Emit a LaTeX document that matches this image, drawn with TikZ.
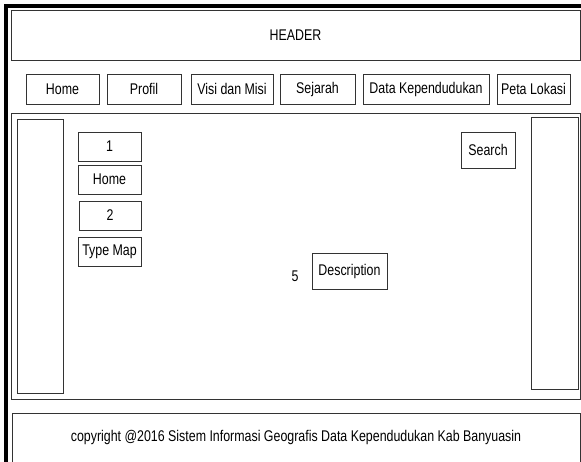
\documentclass[tikz,border=0pt]{standalone}
\usepackage{fontspec}
\setmainfont{Liberation Sans}[FakeStretch=0.8]
\begin{document}
\begin{tikzpicture}[x=1pt,y=-1pt,
  box/.style={draw=black!80, line width=0.9pt, inner sep=0pt, fill=none},
  every node/.style={font=\fontsize{15.5}{17}\selectfont}]
\useasboundingbox (0,0) rectangle (581,461);
\fill[white] (0,0) rectangle (581,461);
% outer frame
\draw[line width=4pt, line cap=rect] (6,470) -- (6,6) -- (590,6);
% header
\node[box, minimum width=569, minimum height=50] (header) at (295.5,35) {HEADER};
% menu
\node[box, minimum width=73, minimum height=30] (mhome) at (62.5,89) {Home};
\node[box, minimum width=74, minimum height=30] (mprofil) at (144,89) {Profil};
\node[box, minimum width=82, minimum height=30] (mvisi) at (232,89) {Visi dan Misi};
\node[box, minimum width=75, minimum height=30] (msejarah) at (317.5,89) {Sejarah};
\node[box, minimum width=126, minimum height=30] (mdata) at (426,89) {Data Kependudukan};
\node[box, minimum width=73, minimum height=30] (mpeta) at (533.5,89) {Peta Lokasi};
% main
\node[box, minimum width=569, minimum height=286] (main) at (295.5,256) {};
\node[box, minimum width=46, minimum height=274] (lside) at (40,256) {};
\node[box, minimum width=47, minimum height=272] (rside) at (554.5,253) {};
% left column
\node[box, minimum width=63, minimum height=29] (b1) at (109.5,146.5) {1};
\node[box, minimum width=63, minimum height=29] (bhome) at (109.5,179.5) {Home};
\node[box, minimum width=62, minimum height=29] (b2) at (110,215.5) {2};
\node[box, minimum width=63, minimum height=29] (btype) at (109.5,251.5) {Type Map};
% search & description
\node[box, minimum width=54, minimum height=36] (search) at (488,150) {Search};
\node[box, minimum width=75, minimum height=36] (desc) at (349.5,271) {Description};
\node[inner sep=0pt] (five) at (295,276) {5};
% footer
\node[box, minimum width=568, minimum height=57] (footer) at (296,441.5) {};
\node[inner sep=0pt] (footertext) at (296,437) {copyright @2016 Sistem Informasi Geografis Data Kependudukan Kab Banyuasin};
\end{tikzpicture}
\end{document}
